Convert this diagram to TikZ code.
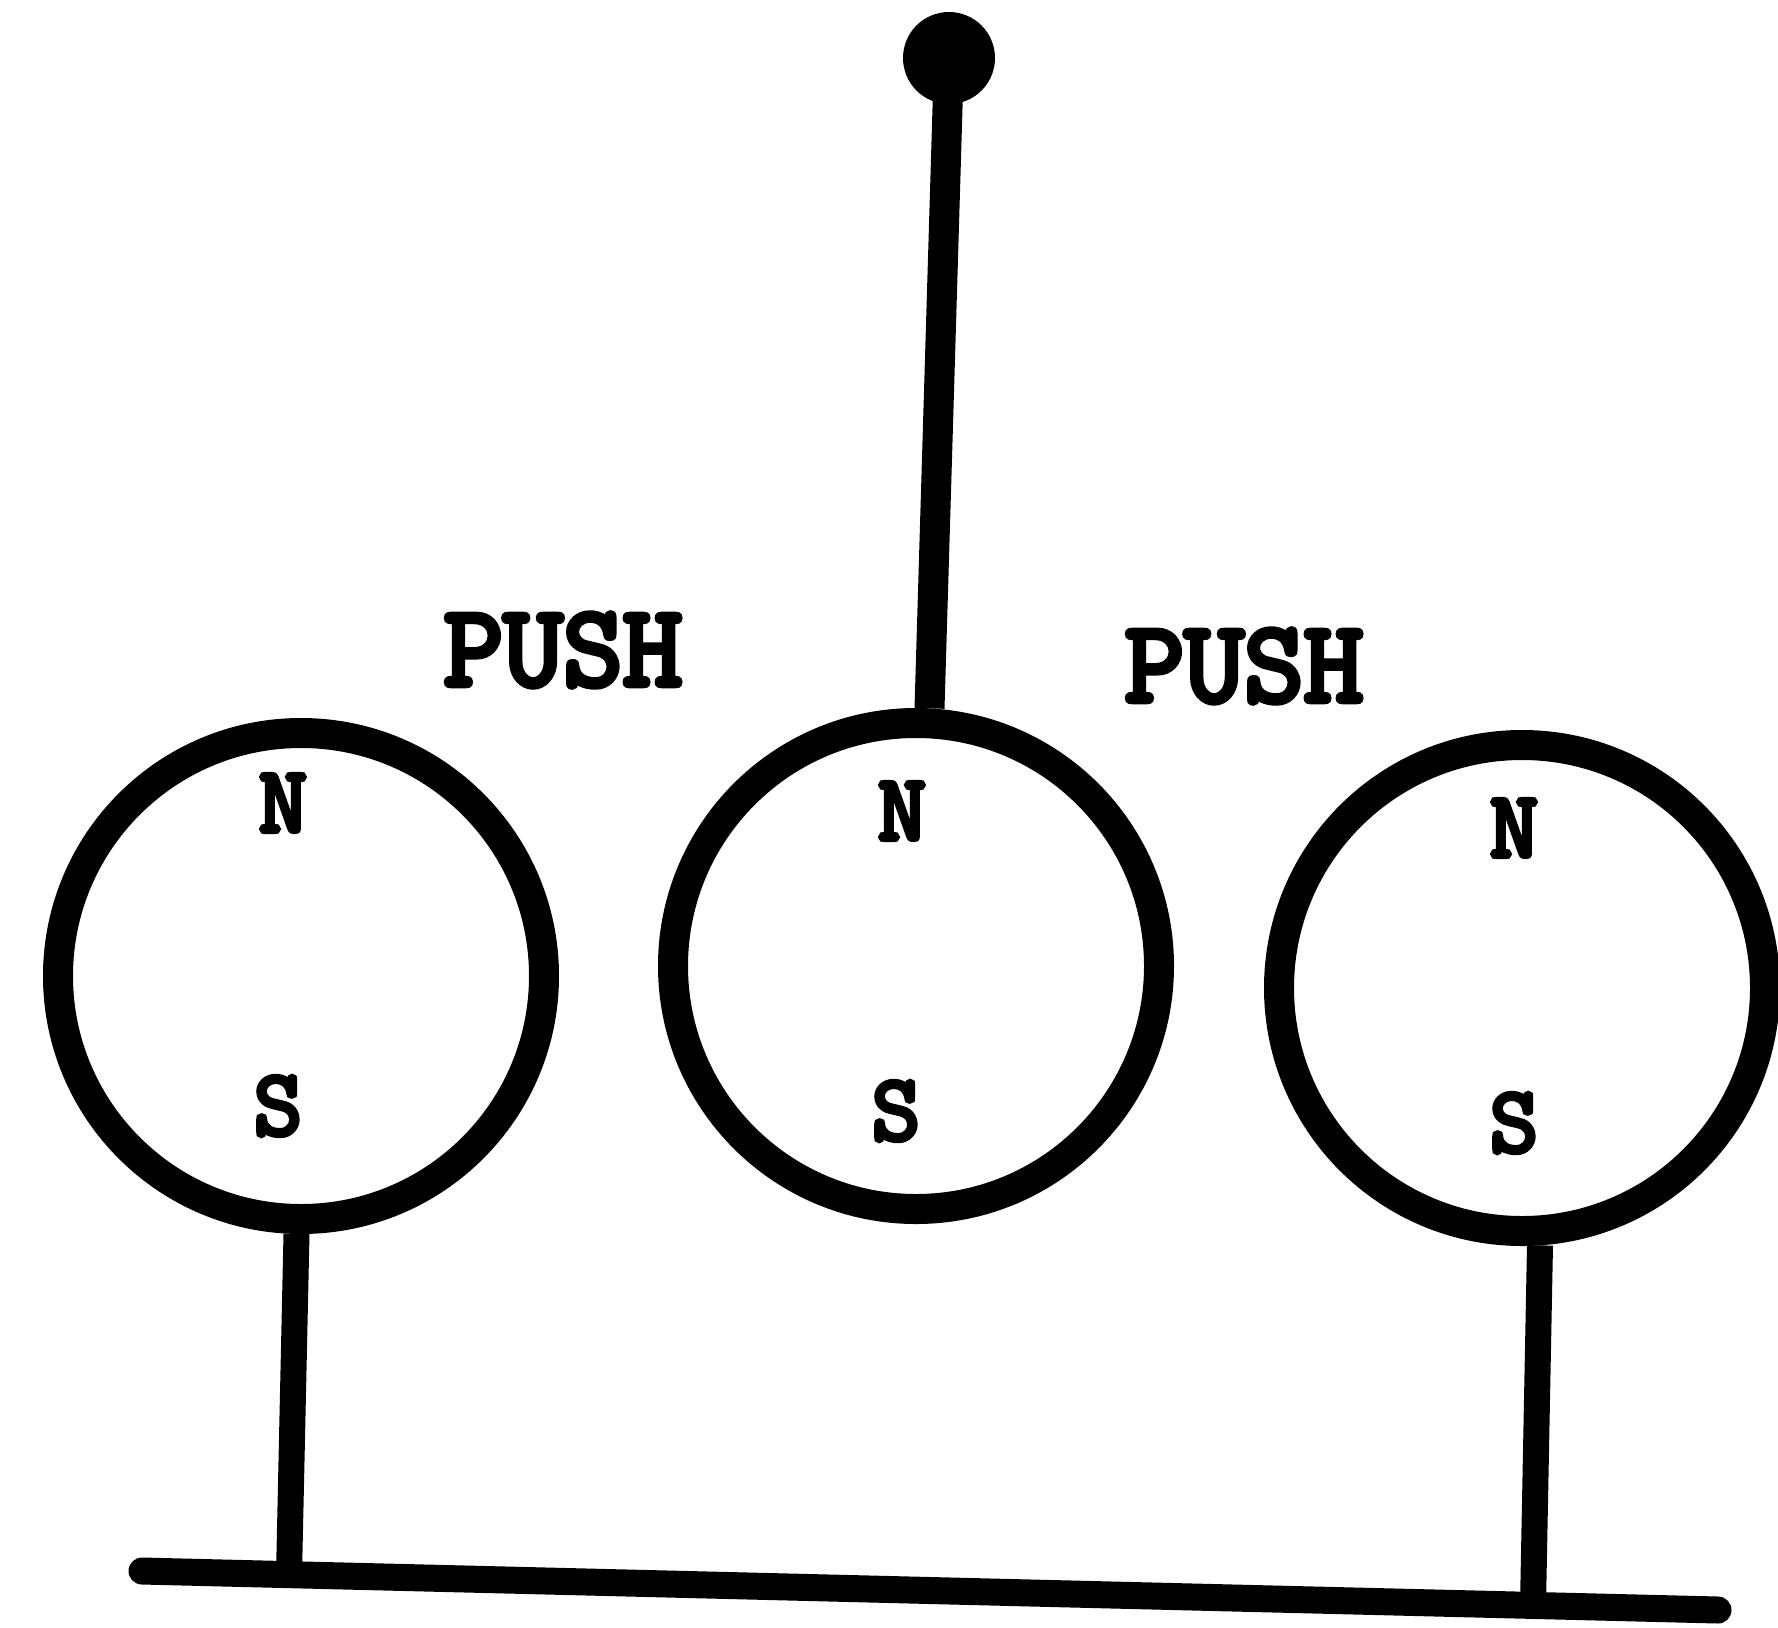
\documentclass[tikz,border=0pt]{standalone}
\usepackage{fontspec}
\newfontfamily\typefont[FakeBold=5]{Latin Modern Mono}
\usetikzlibrary{positioning}

\begin{document}
\begin{tikzpicture}[x=0.5pt,y=-0.5pt,
		magnet/.style={draw,circle,line width=15pt,minimum size=243pt,inner sep=0pt},
		pole/.style={font=\typefont\fontsize{47}{50}\selectfont,inner sep=0pt},
		push/.style={font=\typefont\fontsize{58}{60}\selectfont,inner sep=0pt},
		rod/.style={line width=13pt}]
		\useasboundingbox (0,0) rectangle (1778,1628);
		% magnets
		\node [magnet] (M1) at (301,976) {};
		\node [magnet] (M2) at (916,966) {};
		\node [magnet] (M3) at (1522,988) {};
		\node [pole] (N1) at (283,803) {N};
		\node [pole] (S1) at (278,1106) {S};
		\node [pole] (N2) at (902,811) {N};
		\node [pole] (S2) at (896,1111) {S};
		\node [pole] (N3) at (1514,828) {N};
		\node [pole] (S3) at (1514,1123) {S};
		\node [push] (push1) at (563,650) {PUSH};
		\node [push] (push2) at (1244,666) {PUSH};
		% hanging rod
		\node [fill,circle,minimum size=46pt,inner sep=0pt] (knob) at (949,58) {};
		\draw [line width=15pt] (knob.center) -- (M2.87);
		% stand
		\coordinate (B1) at (142,1571);
		\coordinate (B2) at (1718,1610);
		\coordinate (P1) at (289,1575);
		\coordinate (P2) at (1533,1605);
		\draw [rod,line width=13.5pt,line cap=round] (B1) -- (B2);
		\draw [rod] (M1.-91) -- (P1);
		\draw [rod] (M3.-86) -- (P2);
	\end{tikzpicture}
\end{document}
